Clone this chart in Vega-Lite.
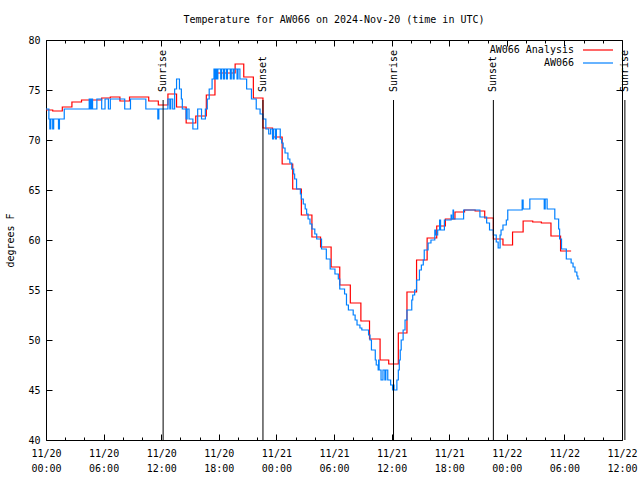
{
 "$schema": "https://vega.github.io/schema/vega-lite/v6.json",
 "width": 576, "height": 400,
 "autosize": {"type": "none"},
 "padding": {"left": 46, "top": 40, "right": 18, "bottom": 40},
 "title": {"text": "Temperature for AW066 on 2024-Nov-20 (time in UTC)", "frame": "group", "anchor": "middle", "fontSize": 10, "fontWeight": "normal", "font": "DejaVu Sans Mono", "color": "black", "offset": 10},
 "datasets": {
  "red": [
   {"hour":0,"temp":73.0},{"hour":0.7,"temp":72.9},{"hour":1.7,"temp":73.3},{"hour":2.7,"temp":73.8},{"hour":3.7,"temp":74.0},{"hour":5.8,"temp":74.2},{"hour":6.7,"temp":74.3},{"hour":7.7,"temp":73.9},{"hour":8.7,"temp":74.3},{"hour":10.7,"temp":73.9},{"hour":11.7,"temp":73.5},{"hour":12.7,"temp":74.6},{"hour":13.6,"temp":73.3},{"hour":14.6,"temp":71.7},{"hour":15.6,"temp":72.4},{"hour":16.7,"temp":74.5},{"hour":17.6,"temp":76.7},{"hour":19.7,"temp":77.6},{"hour":20.6,"temp":76.3},{"hour":21.6,"temp":74.2},{"hour":22.6,"temp":71.2},{"hour":23.6,"temp":70.3},{"hour":24.6,"temp":67.6},{"hour":25.7,"temp":65.1},{"hour":26.6,"temp":62.5},{"hour":27.7,"temp":60.3},{"hour":28.6,"temp":59.3},{"hour":29.7,"temp":57.3},{"hour":30.6,"temp":55.5},{"hour":31.7,"temp":53.7},{"hour":32.8,"temp":51.9},{"hour":33.7,"temp":50.1},{"hour":34.8,"temp":48.0},{"hour":35.7,"temp":47.6},{"hour":36.7,"temp":50.7},{"hour":37.6,"temp":54.8},{"hour":38.6,"temp":58.0},{"hour":39.7,"temp":60.2},{"hour":40.7,"temp":61.4},{"hour":41.6,"temp":62.1},{"hour":42.6,"temp":62.8},{"hour":43.6,"temp":63.0},{"hour":44.7,"temp":62.9},{"hour":45.7,"temp":62.2},{"hour":46.6,"temp":60.1},{"hour":47.6,"temp":59.5},{"hour":48.6,"temp":60.8},{"hour":49.7,"temp":61.9},{"hour":50.7,"temp":61.8},{"hour":51.6,"temp":61.7},{"hour":52.6,"temp":60.4},{"hour":53.6,"temp":58.9},{"hour":54.7,"temp":58.9}
  ],
  "blue": [
   {"hour":0,"temp":73.1},{"hour":0.3,"temp":72.1},{"hour":0.4,"temp":71.1},{"hour":0.5,"temp":72.1},{"hour":0.7,"temp":71.1},{"hour":0.8,"temp":72.1},{"hour":1.3,"temp":71.1},{"hour":1.4,"temp":72.1},{"hour":1.9,"temp":73.1},{"hour":4.5,"temp":74.1},{"hour":4.55,"temp":73.1},{"hour":4.65,"temp":74.1},{"hour":4.7,"temp":73.1},{"hour":4.8,"temp":74.1},{"hour":4.85,"temp":73.1},{"hour":5.3,"temp":74.1},{"hour":5.8,"temp":73.1},{"hour":6.15,"temp":74.1},{"hour":6.5,"temp":73.1},{"hour":6.7,"temp":74.1},{"hour":8.2,"temp":73.1},{"hour":8.8,"temp":74.1},{"hour":10.4,"temp":73.1},{"hour":11.65,"temp":72.1},{"hour":11.75,"temp":73.1},{"hour":12.7,"temp":74.1},{"hour":12.9,"temp":73.1},{"hour":13.0,"temp":74.1},{"hour":13.2,"temp":73.1},{"hour":13.4,"temp":75.1},{"hour":13.6,"temp":76.1},{"hour":13.9,"temp":75.1},{"hour":14.1,"temp":74.1},{"hour":14.2,"temp":73.1},{"hour":14.6,"temp":72.1},{"hour":14.7,"temp":73.1},{"hour":14.9,"temp":72.1},{"hour":15.3,"temp":71.1},{"hour":15.8,"temp":73.1},{"hour":16.2,"temp":72.1},{"hour":16.6,"temp":73.1},{"hour":16.8,"temp":74.1},{"hour":17.0,"temp":75.1},{"hour":17.3,"temp":76.1},{"hour":17.5,"temp":77.1},{"hour":17.6,"temp":76.1},{"hour":17.7,"temp":77.1},{"hour":17.8,"temp":76.1},{"hour":17.9,"temp":77.1},{"hour":18.2,"temp":76.1},{"hour":18.3,"temp":77.1},{"hour":18.5,"temp":76.1},{"hour":18.6,"temp":77.1},{"hour":18.8,"temp":76.1},{"hour":18.9,"temp":77.1},{"hour":19.2,"temp":76.1},{"hour":19.3,"temp":77.1},{"hour":19.5,"temp":76.1},{"hour":19.6,"temp":77.1},{"hour":19.9,"temp":76.1},{"hour":20.0,"temp":77.1},{"hour":20.2,"temp":76.1},{"hour":20.9,"temp":75.1},{"hour":21.4,"temp":74.1},{"hour":21.9,"temp":73.1},{"hour":22.3,"temp":72.6},{"hour":22.6,"temp":72.1},{"hour":22.9,"temp":71.1},{"hour":23.2,"temp":70.6},{"hour":23.4,"temp":71.1},{"hour":23.6,"temp":70.1},{"hour":23.7,"temp":71.1},{"hour":23.9,"temp":70.1},{"hour":24.0,"temp":71.1},{"hour":24.4,"temp":70.1},{"hour":24.55,"temp":69.7},{"hour":24.7,"temp":69.2},{"hour":24.9,"temp":68.7},{"hour":25.2,"temp":68.1},{"hour":25.4,"temp":67.7},{"hour":25.6,"temp":67.1},{"hour":25.8,"temp":66.6},{"hour":25.9,"temp":66.1},{"hour":26.1,"temp":65.1},{"hour":26.5,"temp":64.6},{"hour":26.6,"temp":64.1},{"hour":26.8,"temp":63.6},{"hour":27.0,"temp":63.1},{"hour":27.15,"temp":62.6},{"hour":27.3,"temp":62.1},{"hour":27.5,"temp":61.6},{"hour":27.7,"temp":61.1},{"hour":28.0,"temp":60.6},{"hour":28.2,"temp":60.1},{"hour":28.7,"temp":59.1},{"hour":29.2,"temp":58.1},{"hour":29.6,"temp":57.1},{"hour":30.1,"temp":56.6},{"hour":30.45,"temp":56.1},{"hour":30.6,"temp":55.1},{"hour":31.1,"temp":54.6},{"hour":31.3,"temp":53.5},{"hour":31.5,"temp":53.0},{"hour":32.0,"temp":52.5},{"hour":32.2,"temp":52.0},{"hour":32.4,"temp":51.5},{"hour":32.7,"temp":51.2},{"hour":32.9,"temp":51.0},{"hour":33.6,"temp":50.5},{"hour":33.75,"temp":50.0},{"hour":33.9,"temp":49.0},{"hour":34.3,"temp":48.0},{"hour":34.4,"temp":47.5},{"hour":34.6,"temp":47.0},{"hour":34.65,"temp":48.0},{"hour":34.7,"temp":47.0},{"hour":34.9,"temp":46.0},{"hour":35.1,"temp":47.0},{"hour":35.3,"temp":46.0},{"hour":35.4,"temp":47.0},{"hour":35.6,"temp":46.0},{"hour":35.9,"temp":45.5},{"hour":36.1,"temp":45.0},{"hour":36.2,"temp":45.5},{"hour":36.25,"temp":45.0},{"hour":36.55,"temp":46.0},{"hour":36.7,"temp":47.0},{"hour":36.8,"temp":48.0},{"hour":36.9,"temp":49.0},{"hour":37.0,"temp":50.0},{"hour":37.2,"temp":51.0},{"hour":37.4,"temp":52.0},{"hour":37.6,"temp":53.0},{"hour":38.1,"temp":54.0},{"hour":38.2,"temp":54.5},{"hour":38.4,"temp":55.0},{"hour":38.6,"temp":56.0},{"hour":38.9,"temp":57.0},{"hour":39.1,"temp":57.5},{"hour":39.3,"temp":58.0},{"hour":39.4,"temp":59.0},{"hour":39.8,"temp":59.7},{"hour":40.1,"temp":60.0},{"hour":40.5,"temp":61.0},{"hour":40.6,"temp":60.5},{"hour":40.8,"temp":61.0},{"hour":41.0,"temp":62.0},{"hour":41.1,"temp":61.0},{"hour":41.5,"temp":62.0},{"hour":42.2,"temp":62.5},{"hour":42.25,"temp":62.1},{"hour":42.4,"temp":63.0},{"hour":42.45,"temp":62.1},{"hour":43.5,"temp":63.0},{"hour":45.2,"temp":62.3},{"hour":45.9,"temp":61.7},{"hour":46.2,"temp":61.0},{"hour":46.6,"temp":60.5},{"hour":46.9,"temp":59.8},{"hour":47.1,"temp":59.2},{"hour":47.3,"temp":60.5},{"hour":47.4,"temp":61.0},{"hour":47.6,"temp":61.5},{"hour":47.95,"temp":62.0},{"hour":48.1,"temp":63.0},{"hour":49.6,"temp":64.0},{"hour":49.7,"temp":63.1},{"hour":50.4,"temp":64.1},{"hour":51.9,"temp":63.1},{"hour":52.0,"temp":64.1},{"hour":52.2,"temp":63.1},{"hour":53.0,"temp":62.1},{"hour":53.4,"temp":61.1},{"hour":53.5,"temp":60.1},{"hour":53.7,"temp":59.1},{"hour":54.2,"temp":58.1},{"hour":54.7,"temp":57.7},{"hour":54.9,"temp":57.3},{"hour":55.1,"temp":56.8},{"hour":55.3,"temp":56.4},{"hour":55.4,"temp":56.1},{"hour":55.6,"temp":56.1}
  ],
  "sun": [
   {"hour":12.2,"event":"Sunrise"},{"hour":22.6,"event":"Sunset"},{"hour":36.2,"event":"Sunrise"},{"hour":46.6,"event":"Sunset"},{"hour":60.3,"event":"Sunrise"}
  ]
 },
 "layer": [
  {"data": {"name": "red"},
   "mark": {"type": "line", "interpolate": "step-after", "strokeWidth": 1.2},
   "encoding": {
    "x": {"field": "hour", "type": "quantitative", "scale": {"domain": [0, 60], "nice": false, "zero": false},
          "axis": {"orient": "bottom", "values": [0,6,12,18,24,30,36,42,48,54,60], "tickSize": -6, "labelPadding": 14, "labelBaseline": "top",
                   "labelExpr": "['11/' + (20 + floor(datum.value / 24)), (datum.value % 24 < 10 ? '0' : '') + (datum.value % 24) + ':00']", "title": null}},
    "y": {"field": "temp", "type": "quantitative", "scale": {"domain": [40, 80], "nice": false, "zero": false},
          "axis": {"orient": "left", "values": [40,45,50,55,60,65,70,75,80], "tickSize": -6, "labelPadding": 12, "title": "degrees F", "titleX": -36, "titleY": 200, "titleAngle": 270, "titleAlign": "center", "titleBaseline": "middle"}},
    "color": {"datum": "AW066 Analysis", "type": "nominal", "scale": {"domain": ["AW066 Analysis", "AW066"], "range": ["#ff0000", "#0080ff"]},
              "legend": {"orient": "none", "legendX": 546, "legendY": 4, "title": null, "symbolType": "M-3,0H3", "symbolSize": 100, "symbolStrokeWidth": 1.2, "labelAlign": "right", "labelOffset": -30, "labelFont": "DejaVu Sans Mono", "labelFontSize": 10, "labelColor": "black", "rowPadding": 2}}
   }},
  {"data": {"name": "blue"},
   "mark": {"type": "line", "interpolate": "step-after", "strokeWidth": 1.2},
   "encoding": {
    "x": {"field": "hour", "type": "quantitative", "axis": {"orient": "top", "values": [0,6,12,18,24,30,36,42,48,54,60], "tickSize": -6, "labels": false, "title": null}},
    "y": {"field": "temp", "type": "quantitative", "axis": {"orient": "right", "values": [40,45,50,55,60,65,70,75,80], "tickSize": -6, "labels": false, "title": null}},
    "color": {"datum": "AW066", "type": "nominal"}
   }},
  {"data": {"name": "sun"},
   "mark": {"type": "rule", "color": "black", "strokeWidth": 1},
   "encoding": {
    "x": {"field": "hour", "type": "quantitative", "axis": {"orient": "bottom", "values": [2,4,8,10,14,16,20,22,26,28,32,34,38,40,44,46,50,52,56,58], "tickSize": -3, "labels": false, "title": null}},
    "y": {"datum": 74, "type": "quantitative", "axis": null},
    "y2": {"datum": 40}
   }},
  {"data": {"name": "sun"},
   "mark": {"type": "text", "angle": 270, "align": "left", "baseline": "middle", "font": "DejaVu Sans Mono", "fontSize": 10, "color": "black"},
   "encoding": {
    "x": {"field": "hour", "type": "quantitative", "axis": {"orient": "top", "values": [2,4,8,10,14,16,20,22,26,28,32,34,38,40,44,46,50,52,56,58], "tickSize": -3, "labels": false, "title": null}},
    "y": {"datum": 74.8, "type": "quantitative", "axis": null},
    "text": {"field": "event"}
   }}
 ],
 "resolve": {"axis": {"x": "independent", "y": "independent"}},
 "config": {
  "background": "white",
  "font": "DejaVu Sans Mono",
  "view": {"stroke": "black", "strokeWidth": 1},
  "axis": {"domain": false, "grid": false, "tickColor": "black", "tickWidth": 1, "labelColor": "black", "labelFont": "DejaVu Sans Mono", "labelFontSize": 10, "labelLineHeight": 15, "labelFlush": false, "labelOverlap": false, "labelBound": false, "titleFont": "DejaVu Sans Mono", "titleFontSize": 10, "titleFontWeight": "normal", "titleColor": "black"}
 }
}
